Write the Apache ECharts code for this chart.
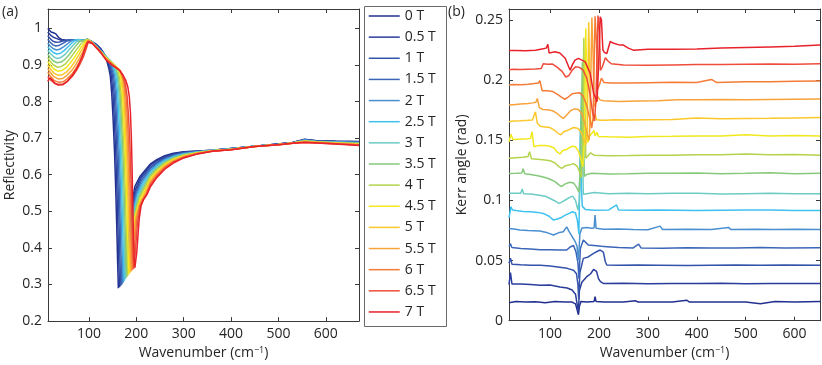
<!DOCTYPE html>
<html><head><meta charset="utf-8">
<script src="https://cdn.jsdelivr.net/npm/echarts@6/dist/echarts.min.js"></script>
<style>html,body{margin:0;padding:0;background:#fff}#c{width:822px;height:365px}</style>
</head><body><div id="c"></div>
<script>
const fields = ['0 T','0.5 T','1 T','1.5 T','2 T','2.5 T','3 T','3.5 T','4 T','4.5 T','5 T','5.5 T','6 T','6.5 T','7 T'];
const colors = ['#22308f','#2a3d9c','#3352aa','#3b66b8','#4a8fcf','#3fc1ef','#6ccbc4','#86c97a','#b5d34c','#f2e81e','#fcc72a','#f8a33a','#f47c36','#ee4d3b','#e8222a'];
const reflXTicks = [100,200,300,400,500,600];
const reflYTicks = [0.2,0.3,0.4,0.5,0.6,0.7,0.8,0.9,1];
const kerrXTicks = [100,200,300,400,500,600];
const kerrYTicks = [0,0.05,0.1,0.15,0.2,0.25];

// Reflectivity (panel a): [wavenumber, reflectivity]
const refl_0T = [[13,1.0],[16,0.998],[20,0.99],[25,0.988],[30,0.985],[36,0.975],[42,0.97],[50,0.968],[60,0.967],[70,0.968],[80,0.967],[90,0.968],[97,0.97],[105,0.965],[115,0.957],[125,0.945],[132,0.93],[137,0.914],[142,0.89],[145,0.87],[148,0.823],[151,0.75],[154,0.66],[156.5,0.56],[158.6,0.46],[160.5,0.36],[162,0.29],[170,0.35],[180,0.44],[190,0.52],[197,0.568],[208,0.596],[230,0.63],[243,0.641],[260,0.652],[278,0.659],[300,0.663],[330,0.665],[360,0.667],[400,0.672],[450,0.678],[500,0.684],[530,0.688],[555,0.697],[580,0.693],[620,0.692],[670,0.691]];
const refl_05T = [[13,0.99],[16,0.985],[20,0.98],[26,0.975],[32,0.972],[40,0.968],[50,0.966],[60,0.967],[70,0.968],[80,0.967],[90,0.968],[97,0.97],[105,0.964],[115,0.955],[125,0.943],[132,0.93],[138,0.914],[143,0.893],[147,0.872],[150.5,0.825],[153.5,0.75],[156.5,0.66],[159,0.56],[161,0.46],[163,0.36],[164.5,0.293],[172,0.35],[182,0.44],[191,0.515],[198,0.56],[209,0.593],[230,0.626],[243,0.638],[260,0.649],[278,0.657],[300,0.662],[330,0.664],[360,0.667],[400,0.672],[450,0.678],[500,0.684],[530,0.688],[555,0.696],[580,0.693],[620,0.691],[670,0.69]];
const refl_1T = [[13,0.98],[18,0.972],[24,0.965],[30,0.962],[38,0.963],[46,0.966],[55,0.968],[65,0.968],[75,0.967],[85,0.967],[97,0.97],[105,0.964],[115,0.954],[125,0.941],[132,0.929],[139,0.914],[145,0.895],[149.5,0.872],[153,0.826],[156,0.752],[159,0.662],[161.5,0.562],[163.6,0.462],[165.5,0.362],[167,0.297],[174.5,0.36],[184,0.45],[192.5,0.515],[199,0.555],[210,0.59],[230,0.621],[243,0.634],[260,0.647],[278,0.655],[300,0.661],[330,0.664],[360,0.667],[400,0.672],[450,0.678],[500,0.684],[530,0.688],[555,0.696],[580,0.692],[620,0.691],[670,0.689]];
const refl_15T = [[13,0.97],[18,0.962],[24,0.955],[30,0.952],[38,0.954],[46,0.96],[54,0.966],[62,0.969],[72,0.968],[84,0.967],[97,0.97],[105,0.964],[115,0.953],[125,0.94],[133,0.928],[140,0.915],[147,0.897],[152,0.872],[155.5,0.826],[158.5,0.752],[161.5,0.662],[164,0.562],[166,0.462],[168,0.362],[169.5,0.3],[176.5,0.365],[186,0.455],[194,0.515],[200,0.55],[211,0.585],[230,0.617],[243,0.631],[260,0.644],[278,0.653],[300,0.659],[330,0.663],[360,0.666],[400,0.671],[450,0.678],[500,0.684],[530,0.688],[555,0.695],[580,0.692],[620,0.69],[670,0.689]];
const refl_2T = [[13,0.96],[18,0.952],[24,0.945],[31,0.941],[38,0.943],[47,0.95],[55,0.958],[63,0.966],[70,0.969],[80,0.967],[90,0.967],[97,0.97],[105,0.964],[115,0.952],[125,0.939],[134,0.926],[142,0.913],[149,0.897],[154.5,0.871],[158,0.826],[161,0.752],[164,0.662],[166.5,0.562],[168.6,0.462],[170.5,0.365],[172,0.305],[178.5,0.37],[188,0.46],[195.5,0.515],[201,0.547],[212,0.58],[230,0.612],[243,0.627],[260,0.641],[278,0.651],[300,0.658],[330,0.663],[360,0.666],[400,0.671],[450,0.678],[500,0.683],[530,0.687],[555,0.694],[580,0.691],[620,0.69],[670,0.688]];
const refl_25T = [[13,0.95],[18,0.942],[25,0.934],[32,0.93],[40,0.932],[48,0.94],[56,0.95],[64,0.96],[71,0.968],[78,0.97],[88,0.967],[97,0.97],[105,0.964],[115,0.952],[125,0.938],[135,0.925],[143,0.913],[151,0.898],[157,0.87],[160.5,0.825],[163.5,0.752],[166.5,0.662],[169,0.562],[171,0.462],[173,0.365],[174.5,0.31],[180.5,0.375],[189.5,0.465],[197,0.515],[203,0.545],[213,0.575],[230,0.608],[243,0.624],[260,0.639],[278,0.649],[300,0.657],[330,0.662],[360,0.666],[400,0.671],[450,0.678],[500,0.683],[530,0.687],[555,0.694],[580,0.691],[620,0.689],[670,0.687]];
const refl_3T = [[13,0.94],[18,0.932],[25,0.923],[32,0.918],[40,0.92],[49,0.928],[57,0.94],[65,0.952],[73,0.963],[79,0.968],[88,0.967],[97,0.97],[105,0.964],[115,0.951],[125,0.937],[135,0.924],[145,0.912],[153,0.899],[159.5,0.87],[163,0.825],[166,0.752],[169,0.662],[171.5,0.562],[173.6,0.462],[175.5,0.368],[177,0.315],[182.5,0.38],[191,0.47],[198.5,0.515],[204,0.542],[214,0.57],[230,0.603],[243,0.62],[260,0.636],[278,0.647],[300,0.656],[330,0.662],[360,0.666],[400,0.67],[450,0.678],[500,0.683],[530,0.687],[555,0.693],[580,0.69],[620,0.689],[670,0.686]];
const refl_35T = [[13,0.93],[18,0.92],[25,0.911],[33,0.906],[41,0.908],[50,0.916],[58,0.928],[66,0.942],[74,0.955],[81,0.965],[88,0.967],[97,0.97],[105,0.964],[115,0.951],[125,0.937],[135,0.923],[145,0.911],[155,0.899],[162,0.868],[165.5,0.823],[168.5,0.752],[171.5,0.665],[174,0.565],[176,0.465],[178,0.37],[179.5,0.32],[184.5,0.385],[193,0.475],[200,0.515],[206,0.54],[215,0.565],[230,0.599],[243,0.617],[260,0.634],[278,0.646],[300,0.655],[330,0.661],[360,0.666],[400,0.67],[450,0.678],[500,0.683],[530,0.687],[555,0.693],[580,0.69],[620,0.688],[670,0.686]];
const refl_4T = [[13,0.92],[18,0.91],[25,0.9],[33,0.894],[42,0.896],[51,0.904],[60,0.918],[68,0.932],[76,0.946],[83,0.958],[90,0.965],[97,0.97],[105,0.964],[115,0.95],[125,0.936],[135,0.922],[145,0.91],[155,0.899],[161,0.89],[164.5,0.866],[168,0.822],[171,0.752],[174,0.665],[176.5,0.565],[178.6,0.465],[180.5,0.372],[182,0.324],[186.5,0.39],[194.5,0.478],[202,0.515],[207,0.537],[216,0.56],[230,0.595],[243,0.613],[260,0.631],[278,0.644],[300,0.653],[330,0.66],[360,0.665],[400,0.67],[450,0.677],[500,0.683],[530,0.687],[555,0.692],[580,0.69],[620,0.687],[670,0.685]];
const refl_45T = [[13,0.91],[18,0.9],[26,0.889],[34,0.883],[43,0.885],[52,0.893],[61,0.906],[69,0.92],[77,0.936],[85,0.952],[92,0.963],[97,0.969],[105,0.963],[115,0.95],[125,0.936],[135,0.921],[145,0.909],[155,0.898],[163,0.888],[167,0.864],[170.5,0.82],[173.5,0.752],[176.5,0.667],[179,0.567],[181,0.467],[183,0.374],[184.5,0.328],[188.5,0.395],[196,0.48],[203.5,0.515],[209,0.535],[217,0.555],[230,0.59],[243,0.609],[260,0.628],[278,0.642],[300,0.652],[330,0.66],[360,0.665],[400,0.67],[450,0.677],[500,0.683],[530,0.687],[555,0.691],[580,0.689],[620,0.687],[670,0.684]];
const refl_5T = [[13,0.9],[18,0.89],[26,0.878],[34,0.872],[43,0.873],[53,0.881],[62,0.894],[70,0.909],[78,0.926],[86,0.944],[93,0.96],[97,0.968],[105,0.963],[115,0.949],[125,0.935],[135,0.92],[145,0.908],[155,0.897],[165,0.886],[169.5,0.862],[173,0.82],[176,0.752],[179,0.668],[181.5,0.568],[183.6,0.468],[185.5,0.376],[187,0.332],[190.5,0.4],[197.5,0.48],[205,0.515],[211,0.533],[218,0.552],[230,0.586],[243,0.606],[260,0.626],[278,0.64],[300,0.651],[330,0.659],[360,0.665],[400,0.669],[450,0.677],[500,0.683],[530,0.687],[555,0.691],[580,0.689],[620,0.686],[670,0.683]];
const refl_55T = [[13,0.89],[18,0.88],[26,0.868],[35,0.862],[44,0.863],[53,0.871],[63,0.884],[71,0.899],[79,0.916],[87,0.936],[93,0.955],[98,0.967],[105,0.962],[115,0.949],[125,0.935],[135,0.919],[145,0.907],[155,0.896],[165,0.886],[172,0.858],[175.5,0.817],[178.5,0.752],[181.5,0.67],[184,0.57],[186,0.47],[188,0.378],[189.5,0.336],[192.5,0.4],[199,0.48],[206,0.515],[212,0.532],[220,0.55],[230,0.581],[243,0.602],[260,0.623],[278,0.638],[300,0.65],[330,0.659],[360,0.665],[400,0.669],[450,0.677],[500,0.682],[530,0.686],[555,0.69],[580,0.688],[620,0.686],[670,0.682]];
const refl_6T = [[13,0.88],[18,0.87],[26,0.858],[35,0.853],[45,0.854],[54,0.862],[64,0.875],[72,0.89],[80,0.907],[88,0.929],[94,0.95],[98,0.966],[105,0.962],[115,0.948],[125,0.934],[135,0.918],[145,0.906],[155,0.895],[165,0.885],[170,0.873],[174.5,0.852],[178,0.815],[181,0.755],[184,0.672],[186.5,0.572],[188.6,0.472],[190.5,0.38],[192,0.34],[195,0.39],[200.5,0.475],[207,0.515],[213,0.53],[221,0.548],[230,0.577],[243,0.599],[260,0.62],[278,0.636],[300,0.648],[330,0.658],[360,0.664],[400,0.669],[450,0.677],[500,0.682],[530,0.686],[555,0.689],[580,0.688],[620,0.685],[670,0.682]];
const refl_65T = [[13,0.868],[18,0.86],[27,0.85],[35,0.847],[45,0.848],[55,0.856],[65,0.869],[73,0.884],[81,0.902],[89,0.925],[95,0.948],[99,0.965],[105,0.962],[115,0.948],[125,0.933],[135,0.916],[145,0.905],[155,0.894],[165,0.885],[172,0.87],[177,0.847],[180.5,0.815],[183.5,0.76],[186.5,0.68],[189,0.575],[191,0.475],[193,0.385],[194.5,0.343],[197.5,0.385],[202.5,0.47],[208.5,0.515],[214,0.53],[222,0.547],[230,0.572],[243,0.595],[260,0.618],[278,0.634],[300,0.647],[330,0.658],[360,0.664],[400,0.668],[450,0.677],[500,0.682],[530,0.686],[555,0.689],[580,0.687],[620,0.685],[670,0.681]];
const refl_7T = [[13,0.855],[17,0.865],[22,0.86],[28,0.85],[35,0.845],[45,0.846],[55,0.856],[65,0.872],[75,0.892],[85,0.922],[92,0.948],[97,0.963],[100,0.966],[108,0.958],[115,0.948],[122,0.94],[130,0.925],[137,0.912],[144,0.905],[150,0.898],[158,0.892],[165,0.885],[172,0.872],[178,0.857],[182,0.84],[185,0.815],[187.5,0.77],[189.5,0.7],[191,0.62],[192.5,0.52],[194,0.43],[195.5,0.37],[197,0.346],[201,0.39],[206,0.48],[210,0.515],[215,0.532],[222,0.545],[230,0.568],[243,0.592],[260,0.615],[278,0.632],[300,0.646],[330,0.657],[360,0.664],[400,0.668],[450,0.677],[500,0.682],[530,0.686],[555,0.688],[580,0.687],[620,0.684],[670,0.68]];

// Kerr angle (panel b): [wavenumber, rad]
const kerr_0T = [[16,0.015],[30,0.016],[50,0.0155],[70,0.0158],[90,0.015],[110,0.016],[130,0.0155],[145,0.0155],[152,0.014],[156,0.008],[158,0.005],[160,0.012],[163,0.016],[175,0.0155],[190,0.016],[192,0.02],[194,0.016],[210,0.0155],[250,0.0155],[275,0.0165],[280,0.0155],[350,0.0155],[380,0.017],[385,0.0155],[450,0.0155],[500,0.0155],[530,0.014],[560,0.016],[600,0.0155],[652,0.016]];
const kerr_05T = [[16,0.03],[19,0.04],[22,0.0305],[40,0.0305],[60,0.03],[80,0.0295],[100,0.0297],[120,0.028],[135,0.0272],[145,0.0255],[152,0.022],[156,0.012],[158,0.008],[160,0.025],[165,0.032],[175,0.0366],[183,0.039],[189,0.0427],[195,0.041],[199,0.035],[203,0.0324],[209,0.031],[250,0.0312],[300,0.0308],[350,0.031],[400,0.031],[450,0.0312],[500,0.0308],[550,0.031],[600,0.031],[652,0.031]];
const kerr_1T = [[16,0.0477],[19,0.052],[22,0.047],[40,0.0465],[60,0.046],[80,0.046],[100,0.0455],[120,0.0445],[135,0.0435],[148,0.042],[154,0.039],[157,0.03],[158.5,0.018],[161,0.04],[168,0.0518],[178,0.053],[189,0.056],[196,0.0575],[202.5,0.0587],[209,0.057],[213,0.049],[216,0.0463],[240,0.046],[280,0.0462],[320,0.046],[380,0.0458],[430,0.046],[480,0.0462],[530,0.046],[580,0.0462],[652,0.046]];
const kerr_15T = [[16,0.0615],[19,0.064],[22,0.0608],[40,0.06],[60,0.0595],[80,0.059],[100,0.059],[120,0.0588],[134,0.0587],[142,0.0615],[148,0.0625],[153,0.057],[157,0.048],[159,0.035],[162,0.06],[168,0.067],[178,0.063],[190,0.0625],[205,0.0618],[216,0.0615],[240,0.0608],[270,0.0605],[281,0.0637],[286,0.0605],[330,0.0603],[380,0.0606],[430,0.0604],[480,0.0605],[530,0.0608],[580,0.0605],[652,0.0606]];
const kerr_2T = [[16,0.0767],[30,0.076],[38,0.0754],[55,0.075],[79,0.0745],[95,0.073],[107,0.0712],[117,0.073],[127,0.0739],[134,0.078],[139,0.074],[144,0.0706],[151,0.066],[155,0.062],[158,0.05],[161,0.072],[165,0.077],[175,0.0775],[185,0.0768],[190,0.077],[192,0.0878],[194,0.0768],[210,0.076],[240,0.0762],[270,0.0758],[300,0.0755],[325,0.0786],[330,0.0758],[380,0.076],[430,0.0758],[465,0.0775],[470,0.0757],[520,0.076],[560,0.0758],[600,0.076],[652,0.0757]];
const kerr_25T = [[16,0.0855],[18,0.087],[20,0.0947],[23,0.092],[30,0.0915],[45,0.0908],[60,0.0905],[75,0.09],[88,0.0888],[98,0.0868],[107,0.0836],[115,0.0845],[122,0.0855],[130,0.0875],[138,0.089],[146,0.0905],[152,0.0895],[156,0.083],[159,0.072],[162,0.16],[164,0.11],[166,0.095],[172,0.0925],[190,0.0918],[220,0.092],[236,0.0962],[240,0.092],[280,0.0918],[320,0.092],[360,0.0918],[400,0.0915],[450,0.0918],[500,0.092],[550,0.092],[600,0.0915],[652,0.0915]];
const kerr_3T = [[16,0.1058],[30,0.1058],[40,0.106],[43,0.1095],[46,0.1055],[60,0.1052],[75,0.1045],[90,0.1035],[100,0.1015],[110,0.0995],[118,0.0975],[124,0.0985],[132,0.1005],[140,0.1025],[146,0.1035],[152,0.1],[157,0.092],[160,0.1],[164,0.19],[166,0.15],[168,0.105],[175,0.1055],[190,0.1065],[220,0.1055],[260,0.106],[300,0.1055],[350,0.1058],[400,0.106],[450,0.1052],[500,0.1055],[550,0.1058],[600,0.1055],[652,0.1055]];
const kerr_35T = [[16,0.1224],[30,0.1225],[42,0.1228],[45,0.1262],[48,0.1222],[60,0.1215],[75,0.1205],[90,0.119],[100,0.1175],[110,0.1155],[118,0.1128],[124,0.1115],[130,0.1135],[140,0.115],[148,0.1145],[154,0.111],[159,0.107],[162,0.125],[166,0.215],[168,0.17],[170,0.12],[175,0.1215],[185,0.1225],[220,0.122],[260,0.1222],[300,0.1225],[350,0.1225],[400,0.1228],[450,0.1222],[500,0.1225],[550,0.123],[600,0.1222],[652,0.1225]];
const kerr_4T = [[16,0.135],[30,0.1355],[45,0.1358],[55,0.1365],[58,0.1405],[62,0.1345],[75,0.1342],[90,0.1335],[100,0.133],[110,0.131],[118,0.128],[124,0.1265],[130,0.1285],[140,0.1295],[148,0.1305],[155,0.1285],[160,0.124],[164,0.119],[166,0.14],[169,0.235],[171,0.19],[173,0.135],[177,0.1365],[183,0.1395],[190,0.1375],[220,0.137],[260,0.1372],[300,0.1375],[350,0.1375],[400,0.1378],[450,0.1378],[500,0.1385],[550,0.1378],[600,0.138],[652,0.1375]];
const kerr_45T = [[16,0.1487],[20,0.155],[24,0.1505],[35,0.1508],[45,0.151],[55,0.1512],[60,0.1515],[63,0.157],[67,0.1445],[75,0.1455],[90,0.1455],[100,0.145],[108,0.1435],[115,0.14],[120,0.1385],[126,0.1415],[135,0.1425],[145,0.145],[152,0.1445],[158,0.141],[163,0.134],[167,0.128],[170,0.15],[173,0.243],[175,0.2],[177,0.148],[181,0.1535],[185,0.1545],[190,0.158],[192,0.1535],[196,0.1565],[199,0.153],[220,0.1528],[260,0.1525],[300,0.153],[350,0.1532],[400,0.1535],[450,0.1535],[500,0.1545],[550,0.1535],[600,0.1538],[652,0.1535]];
const kerr_5T = [[16,0.1653],[25,0.166],[40,0.1662],[55,0.1665],[64,0.1668],[70,0.1736],[74,0.164],[80,0.1615],[90,0.161],[100,0.1605],[110,0.158],[117,0.1555],[122,0.1545],[128,0.157],[138,0.1585],[148,0.1605],[156,0.16],[163,0.157],[168,0.152],[173,0.146],[176,0.16],[179,0.248],[181,0.21],[183,0.163],[188,0.1665],[192,0.172],[195,0.167],[205,0.1665],[215,0.1665],[230,0.167],[260,0.1668],[300,0.167],[350,0.1672],[400,0.1685],[450,0.1678],[500,0.168],[550,0.1682],[600,0.1685],[652,0.1688]];
const kerr_55T = [[16,0.1792],[25,0.1795],[40,0.18],[55,0.1805],[65,0.181],[71,0.1815],[74,0.1847],[78,0.177],[85,0.1755],[95,0.1752],[105,0.1745],[115,0.172],[122,0.1695],[127,0.168],[133,0.1705],[142,0.1745],[150,0.176],[158,0.1755],[165,0.172],[171,0.164],[176,0.155],[180,0.15],[182,0.17],[185.5,0.252],[188,0.22],[190,0.178],[194,0.181],[197,0.1865],[202,0.1835],[210,0.1828],[240,0.1822],[280,0.1825],[320,0.1828],[360,0.1835],[400,0.1835],[450,0.1838],[500,0.1835],[550,0.1838],[600,0.184],[652,0.1842]];
const kerr_6T = [[16,0.1958],[25,0.1962],[40,0.196],[55,0.1965],[68,0.197],[76,0.1975],[79,0.1995],[84,0.191],[95,0.191],[105,0.1905],[115,0.188],[124,0.1855],[130,0.184],[136,0.1855],[145,0.1885],[152,0.189],[160,0.1895],[167,0.187],[174,0.18],[180,0.17],[185,0.16],[188,0.168],[192,0.253],[195,0.23],[197,0.192],[201,0.196],[205,0.2015],[210,0.198],[225,0.1975],[260,0.1975],[300,0.1978],[350,0.1982],[400,0.198],[430,0.2005],[440,0.198],[500,0.1985],[550,0.1985],[600,0.199],[652,0.1992]];
const kerr_65T = [[16,0.2085],[25,0.209],[40,0.2088],[55,0.209],[70,0.2092],[82,0.2095],[86,0.2135],[95,0.213],[105,0.2132],[115,0.2105],[125,0.207],[132,0.2025],[138,0.2035],[145,0.208],[152,0.211],[160,0.2105],[168,0.208],[175,0.2015],[181,0.19],[187,0.173],[191,0.166],[194,0.185],[198,0.2535],[201,0.24],[203,0.208],[207,0.211],[213,0.2185],[218,0.216],[225,0.2135],[250,0.2125],[300,0.2122],[350,0.2125],[400,0.2128],[450,0.2128],[500,0.213],[550,0.2132],[600,0.213],[652,0.2135]];
const kerr_7T = [[16,0.2245],[30,0.2245],[50,0.2243],[70,0.2248],[86,0.226],[92,0.2265],[95.5,0.2296],[98,0.2225],[105,0.223],[110,0.2234],[120,0.2225],[131,0.218],[138,0.211],[141,0.2082],[146,0.213],[151,0.2165],[158,0.218],[165,0.2165],[172,0.215],[182,0.2055],[189,0.189],[196,0.182],[199,0.21],[202.5,0.2525],[205,0.25],[208,0.225],[211,0.223],[216,0.222],[223,0.232],[230,0.2305],[243,0.229],[250,0.229],[260,0.2265],[270,0.2248],[300,0.2255],[350,0.2255],[400,0.2257],[450,0.2265],[500,0.227],[550,0.2275],[600,0.228],[652,0.229]];

const reflData = [refl_0T,refl_05T,refl_1T,refl_15T,refl_2T,refl_25T,refl_3T,refl_35T,refl_4T,refl_45T,refl_5T,refl_55T,refl_6T,refl_65T,refl_7T];
const kerrData = [kerr_0T,kerr_05T,kerr_1T,kerr_15T,kerr_2T,kerr_25T,kerr_3T,kerr_35T,kerr_4T,kerr_45T,kerr_5T,kerr_55T,kerr_6T,kerr_65T,kerr_7T];

const FONT = 'Open Sans';
const TXT = '#262626';
const AX = '#3a3a3a';
const chart = echarts.init(document.getElementById('c'), null, {renderer: 'canvas', width: 822, height: 365});

function xAx(grid, pos, min, max, ticks, withLabel) {
  return {
    type: 'value', gridIndex: grid, position: pos, min: min, max: max,
    axisLine: {show: true, onZero: false, lineStyle: {color: AX, width: 1}},
    axisTick: {show: true, inside: true, length: 4, customValues: ticks, lineStyle: {color: AX}},
    axisLabel: {show: withLabel, customValues: ticks, margin: 6, color: TXT, fontSize: 14, fontFamily: FONT},
    splitLine: {show: false},
    name: withLabel ? 'Wavenumber (cm{sup|\u22121})' : '',
    nameLocation: 'middle', nameGap: 23,
    nameTextStyle: {color: TXT, fontSize: 14, fontFamily: FONT,
      rich: {sup: {fontSize: 9, fontFamily: FONT, color: TXT, verticalAlign: 'top', lineHeight: 10}}}
  };
}
function yAx(grid, pos, min, max, ticks, withLabel, name, gap, fmt) {
  return {
    type: 'value', gridIndex: grid, position: pos, min: min, max: max,
    axisLine: {show: true, onZero: false, lineStyle: {color: AX, width: 1}},
    axisTick: {show: true, inside: true, length: 4, customValues: ticks, lineStyle: {color: AX}},
    axisLabel: {show: withLabel, customValues: ticks, margin: 6, color: TXT, fontSize: 14, fontFamily: FONT, formatter: fmt},
    splitLine: {show: false},
    name: name, nameLocation: 'middle', nameGap: gap,
    nameTextStyle: {color: TXT, fontSize: 14, fontFamily: FONT}
  };
}

const series = [];
fields.forEach((f, i) => {
  series.push({type: 'line', name: f, xAxisIndex: 0, yAxisIndex: 0, data: reflData[i], symbol: 'none',
    lineStyle: {width: 1.5, color: colors[i]}, itemStyle: {color: colors[i]}, z: 2 + i});
});
fields.forEach((f, i) => {
  series.push({type: 'line', name: f, xAxisIndex: 2, yAxisIndex: 2, data: kerrData[i], symbol: 'none',
    lineStyle: {width: 1.5, color: colors[i]}, itemStyle: {color: colors[i]}, z: 2 + i});
});

chart.setOption({
  animation: false,
  backgroundColor: '#ffffff',
  grid: [
    {left: 48, top: 9, width: 311, height: 312.7, containLabel: false},
    {left: 509, top: 9, width: 311, height: 311.7, containLabel: false}
  ],
  xAxis: [
    xAx(0, 'bottom', 13.5, 670, reflXTicks, true),
    xAx(0, 'top', 13.5, 670, reflXTicks, false),
    xAx(1, 'bottom', 16, 652, kerrXTicks, true),
    xAx(1, 'top', 16, 652, kerrXTicks, false)
  ],
  yAxis: [
    yAx(0, 'left', 0.2, 1.053, reflYTicks, true, 'Reflectivity', 31, v => String(v)),
    yAx(0, 'right', 0.2, 1.053, reflYTicks, false, '', 0),
    yAx(1, 'left', 0, 0.259, kerrYTicks, true, 'Kerr angle (rad)', 40, v => String(v)),
    yAx(1, 'right', 0, 0.259, kerrYTicks, false, '', 0)
  ],
  legend: {
    orient: 'vertical', left: 362, top: 4, padding: [5, 6, 5, 6],
    itemWidth: 31, itemHeight: 14, itemGap: 7.14,
    data: fields, selectedMode: false,
    itemStyle: {opacity: 0},
    lineStyle: {width: 1.5},
    textStyle: {color: TXT, fontSize: 14, fontFamily: FONT},
    borderWidth: 0
  },
  graphic: [
    {type: 'rect', left: 362, top: 4, shape: {width: 82, height: 320}, style: {fill: 'none', stroke: '#6a6a6a', lineWidth: 1}, z: 100},
    {type: 'text', left: 2, top: 5, style: {text: '(a)', fill: TXT, font: '14px "Open Sans"'}},
    {type: 'text', left: 448, top: 5, style: {text: '(b)', fill: TXT, font: '14px "Open Sans"'}}
  ],
  series: series
});
</script>
</body></html>
